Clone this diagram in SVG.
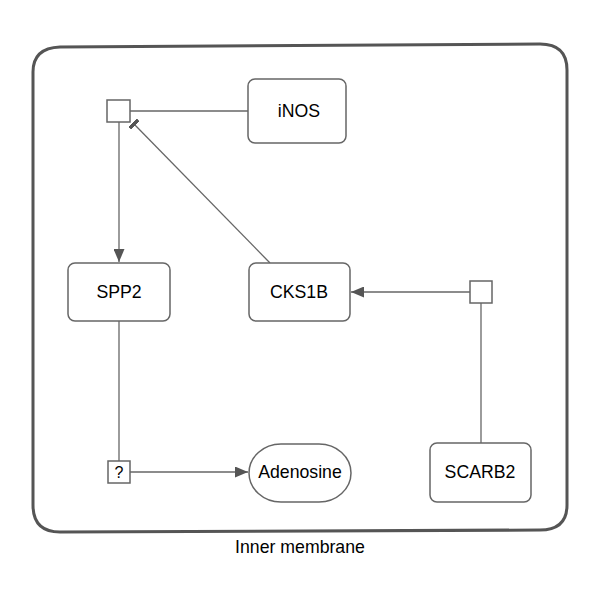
<svg xmlns="http://www.w3.org/2000/svg" width="600" height="600" viewBox="0 0 600 600">
<defs>
<style>
.node{fill:#fff;stroke:#666;stroke-width:1.5}
.edge{fill:none;stroke:#666;stroke-width:1.3}
text{font-family:"Liberation Sans",Arial,sans-serif;font-size:17.7px;fill:#000;text-anchor:middle}
text.q{font-size:16px}
</style>
<marker id="arr" viewBox="0 0 13 11" refX="13" refY="5.5" markerWidth="13" markerHeight="11" markerUnits="userSpaceOnUse" orient="auto">
<path d="M0,0 L13,5.5 L0,11 z" fill="#555"/>
</marker>
<marker id="tbar" viewBox="0 0 4 12" refX="2" refY="6" markerWidth="4" markerHeight="12" markerUnits="userSpaceOnUse" orient="auto">
<rect x="0" y="0" width="4" height="12" fill="#555"/>
</marker>
</defs>
<g id="compartment">
<path d="M33,72 Q33,48 60,47 L540,44 Q567,44 567,70 L567,505 Q567,530 540,530 L60,532 Q33,532 33,505 Z" fill="none" stroke="#555" stroke-width="3"/>
<text x="300" y="553">Inner membrane</text>
</g>
<g id="connectors">
<line class="edge" x1="130" y1="111" x2="248" y2="111"/>
<line class="edge" x1="119" y1="122" x2="119" y2="262" marker-end="url(#arr)"/>
<line class="edge" x1="270" y1="263" x2="134" y2="124" marker-end="url(#tbar)"/>
<line class="edge" x1="470" y1="292" x2="351" y2="292" marker-end="url(#arr)"/>
<line class="edge" x1="481" y1="443" x2="481" y2="303"/>
<line class="edge" x1="119" y1="321" x2="119" y2="461"/>
<line class="edge" x1="130" y1="472" x2="248" y2="472" marker-end="url(#arr)"/>
</g>
<g id="iNOS"><rect class="node" x="248" y="79" width="98" height="64" rx="7"/><text x="299" y="117">iNOS</text></g>
<g id="process1"><rect class="node" x="107" y="100" width="23" height="22"/></g>
<g id="SPP2"><rect class="node" x="68" y="263" width="102" height="58" rx="7"/><text x="119" y="298">SPP2</text></g>
<g id="CKS1B"><rect class="node" x="249" y="263" width="101" height="58" rx="7"/><text x="299" y="298">CKS1B</text></g>
<g id="process2"><rect class="node" x="470" y="281" width="22" height="22"/></g>
<g id="SCARB2"><rect class="node" x="430" y="443" width="101" height="59" rx="7"/><text x="480" y="478">SCARB2</text></g>
<g id="process3"><rect class="node" x="108" y="461" width="22" height="22"/><text class="q" x="119" y="478">?</text></g>
<g id="Adenosine"><rect class="node" x="249" y="444" width="102" height="58" rx="32" ry="29"/><text x="300" y="478">Adenosine</text></g>
</svg>
